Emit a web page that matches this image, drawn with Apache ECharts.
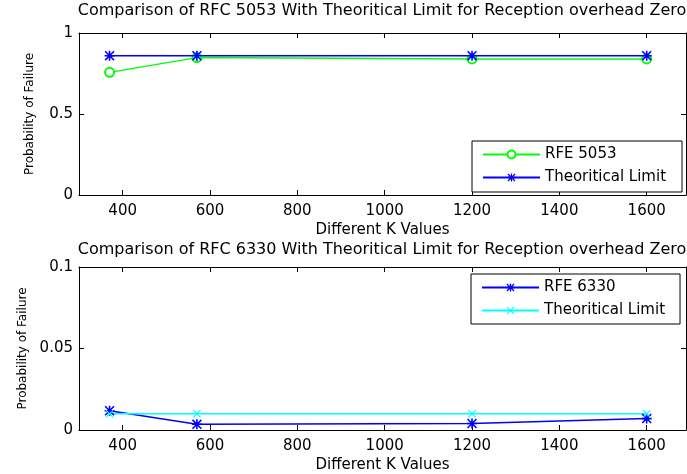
<!DOCTYPE html>
<html>
<head>
<meta charset="utf-8">
<script src="https://cdn.jsdelivr.net/npm/echarts@6/dist/echarts.min.js"></script>
<style>
  html, body { margin: 0; padding: 0; background: #fff; }
  #chart { width: 687px; height: 474px; }
</style>
</head>
<body>
<div id="chart"></div>
<script>
// ---- data ----
const kValues = [370, 570, 1200, 1600];
const rfc5053 = [0.757, 0.848, 0.840, 0.840];
const theory5053 = [0.86, 0.86, 0.86, 0.86];
const rfc6330 = [0.0118, 0.0035, 0.0040, 0.0070];
const theory6330 = [0.0100, 0.0100, 0.0100, 0.0100];
const xTicks = [400, 600, 800, 1000, 1200, 1400, 1600];
const titleTop = 'Comparison of RFC 5053 With Theoritical Limit for Reception overhead Zero';
const titleBottom = 'Comparison of RFC 6330 With Theoritical Limit for Reception overhead Zero';
const xName = 'Different K Values';
const yName = 'Probability of Failure';

const pairs = (xs, ys) => xs.map((x, i) => [x, ys[i]]);

const FONT = 'DejaVu Sans';
const starPath = 'path://M4.2,0H5.8V10H4.2Z M0,4.2H10V5.8H0Z M1.1,0L10,8.9L8.9,10L0,1.1Z M8.9,0L10,1.1L1.1,10L0,8.9Z';
const crossPath = 'path://M1,0L10,9L9,10L0,1Z M9,0L10,1L1,10L0,9Z';

const txt = { color: '#000', fontFamily: FONT, fontSize: 15 };

function xAxisBottom(gi) {
  return {
    type: 'value', gridIndex: gi, min: 300, max: 1690, position: 'bottom',
    axisLine: { show: true, onZero: false, lineStyle: { color: '#000', width: 1 } },
    axisTick: { show: true, inside: true, length: 5, customValues: xTicks, lineStyle: { color: '#000' } },
    axisLabel: Object.assign({ customValues: xTicks, margin: 9, formatter: v => String(v) }, txt),
    splitLine: { show: false },
    name: xName, nameLocation: 'middle', nameGap: 28,
    nameTextStyle: Object.assign({}, txt)
  };
}
function xAxisTop(gi) {
  return {
    type: 'value', gridIndex: gi, min: 300, max: 1690, position: 'top',
    axisLine: { show: true, onZero: false, lineStyle: { color: '#000', width: 1 } },
    axisTick: { show: true, inside: true, length: 5, customValues: xTicks, lineStyle: { color: '#000' } },
    axisLabel: { show: false },
    splitLine: { show: false }
  };
}
function yAxisLeft(gi, max, interval) {
  return {
    type: 'value', gridIndex: gi, min: 0, max: max, interval: interval, position: 'left',
    axisLine: { show: true, onZero: false, lineStyle: { color: '#000', width: 1 } },
    axisTick: { show: true, inside: true, length: 5, lineStyle: { color: '#000' } },
    axisLabel: Object.assign({ margin: 6, formatter: v => String(v) }, txt),
    splitLine: { show: false },
    name: yName, nameLocation: 'middle', nameGap: 43,
    nameTextStyle: Object.assign({}, txt, { fontSize: 12 })
  };
}
function yAxisRight(gi, max, interval) {
  return {
    type: 'value', gridIndex: gi, min: 0, max: max, interval: interval, position: 'right',
    axisLine: { show: true, onZero: false, lineStyle: { color: '#000', width: 1 } },
    axisTick: { show: true, inside: true, length: 5, lineStyle: { color: '#000' } },
    axisLabel: { show: false },
    splitLine: { show: false }
  };
}

const chart = echarts.init(document.getElementById('chart'));
chart.setOption({
  backgroundColor: '#fff',
  animation: false,
  title: [
    { text: titleTop, left: 382, top: 3, textAlign: 'center', padding: 0,
      textStyle: { color: '#000', fontFamily: FONT, fontSize: 16, fontWeight: 'normal' } },
    { text: titleBottom, left: 382, top: 242, textAlign: 'center', padding: 0,
      textStyle: { color: '#000', fontFamily: FONT, fontSize: 16, fontWeight: 'normal' } }
  ],
  grid: [
    { left: 79, top: 33, width: 607, height: 162, containLabel: false },
    { left: 79, top: 267, width: 607, height: 163, containLabel: false }
  ],
  xAxis: [xAxisBottom(0), xAxisTop(0), xAxisBottom(1), xAxisTop(1)],
  yAxis: [yAxisLeft(0, 1, 0.5), yAxisRight(0, 1, 0.5), yAxisLeft(1, 0.1, 0.05), yAxisRight(1, 0.1, 0.05)],
  legend: [
    { data: ['RFE 5053', 'Theoritical Limit'], orient: 'vertical', left: 472, top: 141,
      padding: [6, 16, 7, 10], itemGap: 8, itemWidth: 57, itemHeight: 10,
      backgroundColor: '#fff', borderColor: '#000', borderWidth: 1, borderRadius: 0,
      selectedMode: false, textStyle: Object.assign({}, txt) },
    { data: ['RFE 6330', 'Theoritical Limit '], orient: 'vertical', left: 471, top: 274,
      padding: [6, 15, 6, 10], itemGap: 8, itemWidth: 57, itemHeight: 10,
      backgroundColor: '#fff', borderColor: '#000', borderWidth: 1, borderRadius: 0,
      selectedMode: false, textStyle: Object.assign({}, txt),
      formatter: n => n.trim() }
  ],
  series: [
    { name: 'RFE 5053', type: 'line', xAxisIndex: 0, yAxisIndex: 0,
      data: pairs(kValues, rfc5053), symbol: 'emptyCircle', symbolSize: 9,
      lineStyle: { color: '#00ff00', width: 1.5 }, itemStyle: { color: '#00ff00', borderWidth: 1.5 } },
    { name: 'Theoritical Limit', type: 'line', xAxisIndex: 0, yAxisIndex: 0,
      data: pairs(kValues, theory5053), symbol: starPath, symbolSize: 10,
      lineStyle: { color: '#0000ff', width: 1.5 }, itemStyle: { color: '#0000ff' } },
    { name: 'RFE 6330', type: 'line', xAxisIndex: 2, yAxisIndex: 2,
      data: pairs(kValues, rfc6330), symbol: starPath, symbolSize: 10,
      lineStyle: { color: '#0000ff', width: 1.5 }, itemStyle: { color: '#0000ff' } },
    { name: 'Theoritical Limit ', type: 'line', xAxisIndex: 2, yAxisIndex: 2,
      data: pairs(kValues, theory6330), symbol: crossPath, symbolSize: 8,
      lineStyle: { color: '#00ffff', width: 1.5 }, itemStyle: { color: '#00ffff' } }
  ]
});
</script>
</body>
</html>
